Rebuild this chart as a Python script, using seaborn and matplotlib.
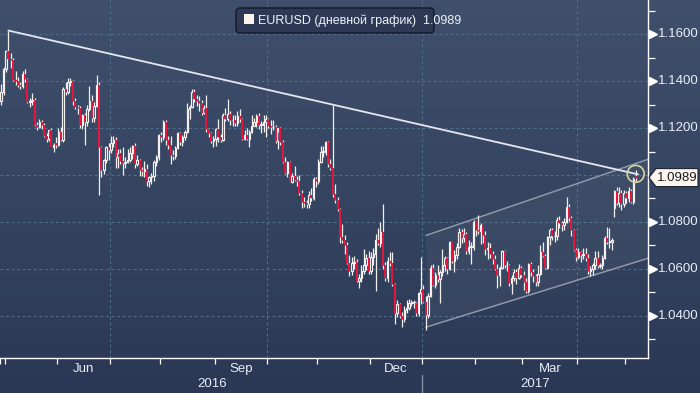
import numpy as np
import pandas as pd
import matplotlib
matplotlib.use("Agg")
import matplotlib.pyplot as plt
import matplotlib.transforms as mtransforms
from matplotlib.patches import FancyBboxPatch, Rectangle, Polygon
import seaborn as sns

# ---------------- data (EURUSD daily) ----------------
start_date = "2016-04-28"
end_date = "2017-05-05"

opens = [
    1.1315, 1.1355,
    1.1450, 1.1530, 1.1495, 1.1490, 1.1405, 1.1400, 1.1385, 1.1380, 1.1430, 1.1410, 1.1310, 1.1315, 1.1320, 1.1215, 1.1205, 1.1225, 1.1215, 1.1165, 1.1155, 1.1190, 1.1120, 1.1135,
    1.1130, 1.1185, 1.1150, 1.1365, 1.1355, 1.1395, 1.1400, 1.1315, 1.1290, 1.1285, 1.1215, 1.1255, 1.1225, 1.1280, 1.1315, 1.1245, 1.1295, 1.1385, 1.1120, 1.1020, 1.1065, 1.1120,
    1.1105, 1.1135, 1.1150, 1.1075, 1.1095, 1.1060, 1.1050, 1.1055, 1.1065, 1.1095, 1.1125, 1.1045, 1.1065, 1.1020, 1.1015, 1.1025, 1.0975, 1.0990, 1.0995, 1.1055, 1.1075,
    1.1170, 1.1160, 1.1225, 1.1150, 1.1130, 1.1085, 1.1080, 1.1115, 1.1180, 1.1140, 1.1160, 1.1185, 1.1280, 1.1290, 1.1355, 1.1325, 1.1315, 1.1305, 1.1265, 1.1285, 1.1195, 1.1180, 1.1145,
    1.1155, 1.1195, 1.1160, 1.1150, 1.1255, 1.1240, 1.1260, 1.1235, 1.1235, 1.1220, 1.1250, 1.1240, 1.1155, 1.1170, 1.1155, 1.1185, 1.1210, 1.1225, 1.1250, 1.1215, 1.1215, 1.1225,
    1.1240, 1.1210, 1.1205, 1.1205, 1.1145, 1.1200, 1.1140, 1.1055, 1.1010, 1.1055, 1.0970, 1.0995, 1.0980, 1.0975, 1.0925, 1.0885, 1.0880, 1.0875, 1.0915, 1.0900, 1.0985,
    1.0975, 1.1055, 1.1100, 1.1100, 1.1140, 1.1045, 1.1030, 1.0920, 1.0895, 1.0855, 1.0735, 1.0725, 1.0700, 1.0625, 1.0590, 1.0625, 1.0630, 1.0550, 1.0560, 1.0590, 1.0615, 1.0645,
    1.0590, 1.0650, 1.0665, 1.0725, 1.0710, 1.0755, 1.0615, 1.0560, 1.0635, 1.0625, 1.0535, 1.0410, 1.0450, 1.0400, 1.0385, 1.0425, 1.0435, 1.0455, 1.0455, 1.0455, 1.0410, 1.0495,
    1.0515, 1.0460, 1.0405, 1.0485, 1.0605, 1.0530, 1.0575, 1.0555, 1.0585, 1.0615, 1.0645, 1.0600, 1.0715, 1.0635, 1.0660, 1.0695, 1.0755, 1.0730, 1.0750, 1.0675, 1.0695, 1.0695,
    1.0800, 1.0765, 1.0760, 1.0785, 1.0745, 1.0685, 1.0690, 1.0665, 1.0640, 1.0600, 1.0575, 1.0605, 1.0675, 1.0615, 1.0615, 1.0540, 1.0560, 1.0585, 1.0560, 1.0605,
    1.0575, 1.0545, 1.0505, 1.0620, 1.0585, 1.0570, 1.0545, 1.0580, 1.0670, 1.0655, 1.0605, 1.0735, 1.0765, 1.0740, 1.0740, 1.0810, 1.0795, 1.0785, 1.0800, 1.0865, 1.0815, 1.0765, 1.0680,
    1.0650, 1.0670, 1.0660, 1.0665, 1.0645, 1.0590, 1.0600, 1.0615, 1.0645, 1.0610, 1.0615, 1.0645, 1.0730, 1.0715, 1.0715, 1.0860, 1.0930, 1.0880, 1.0925, 1.0875,
    1.0925, 1.0900, 1.0930, 1.0885, 1.0995,
]
highs = [
    1.1390, 1.1460,
    1.1535, 1.1616, 1.1520, 1.1500, 1.1445, 1.1420, 1.1395, 1.1445, 1.1450, 1.1412, 1.1330, 1.1350, 1.1330, 1.1225, 1.1240, 1.1235, 1.1220, 1.1180, 1.1190, 1.1200, 1.1135, 1.1160,
    1.1200, 1.1205, 1.1375, 1.1395, 1.1415, 1.1415, 1.1405, 1.1330, 1.1300, 1.1295, 1.1260, 1.1265, 1.1300, 1.1380, 1.1340, 1.1310, 1.1425, 1.1395, 1.1125, 1.1070, 1.1125, 1.1135,
    1.1165, 1.1165, 1.1160, 1.1110, 1.1110, 1.1120, 1.1075, 1.1110, 1.1120, 1.1130, 1.1135, 1.1085, 1.1070, 1.1035, 1.1060, 1.1045, 1.0995, 1.1010, 1.1065, 1.1085, 1.1175,
    1.1185, 1.1235, 1.1235, 1.1165, 1.1165, 1.1105, 1.1125, 1.1185, 1.1185, 1.1170, 1.1190, 1.1305, 1.1300, 1.1365, 1.1365, 1.1340, 1.1335, 1.1320, 1.1300, 1.1340, 1.1200, 1.1185, 1.1165,
    1.1200, 1.1240, 1.1175, 1.1265, 1.1285, 1.1325, 1.1275, 1.1255, 1.1255, 1.1275, 1.1280, 1.1245, 1.1190, 1.1200, 1.1190, 1.1255, 1.1245, 1.1260, 1.1265, 1.1230, 1.1255, 1.1255,
    1.1245, 1.1235, 1.1235, 1.1215, 1.1185, 1.1205, 1.1150, 1.1075, 1.1060, 1.1060, 1.1010, 1.1040, 1.0995, 1.1000, 1.0935, 1.0905, 1.0895, 1.0930, 1.0945, 1.0990, 1.0990,
    1.1070, 1.1125, 1.1125, 1.1145, 1.1145, 1.1070, 1.1300, 1.0960, 1.0905, 1.0860, 1.0790, 1.0745, 1.0715, 1.0660, 1.0650, 1.0655, 1.0640, 1.0580, 1.0615, 1.0685, 1.0665, 1.0675,
    1.0670, 1.0690, 1.0750, 1.0775, 1.0800, 1.0875, 1.0630, 1.0650, 1.0670, 1.0670, 1.0540, 1.0465, 1.0455, 1.0415, 1.0440, 1.0465, 1.0470, 1.0465, 1.0465, 1.0460, 1.0500, 1.0652,
    1.0530, 1.0485, 1.0495, 1.0615, 1.0620, 1.0585, 1.0615, 1.0595, 1.0685, 1.0655, 1.0650, 1.0720, 1.0715, 1.0680, 1.0710, 1.0775, 1.0770, 1.0775, 1.0755, 1.0725, 1.0715, 1.0810,
    1.0800, 1.0829, 1.0795, 1.0785, 1.0760, 1.0715, 1.0710, 1.0675, 1.0660, 1.0620, 1.0610, 1.0680, 1.0680, 1.0635, 1.0620, 1.0575, 1.0600, 1.0600, 1.0620, 1.0610,
    1.0590, 1.0560, 1.0625, 1.0630, 1.0600, 1.0580, 1.0615, 1.0700, 1.0715, 1.0665, 1.0740, 1.0775, 1.0775, 1.0760, 1.0820, 1.0825, 1.0805, 1.0815, 1.0906, 1.0875, 1.0825, 1.0770, 1.0690,
    1.0690, 1.0675, 1.0690, 1.0690, 1.0665, 1.0610, 1.0625, 1.0675, 1.0675, 1.0625, 1.0660, 1.0740, 1.0778, 1.0775, 1.0730, 1.0937, 1.0950, 1.0950, 1.0935, 1.0935,
    1.0930, 1.0950, 1.0940, 1.0990, 1.1020,
]
lows = [
    1.1300, 1.1340,
    1.1440, 1.1495, 1.1455, 1.1400, 1.1385, 1.1375, 1.1365, 1.1370, 1.1395, 1.1305, 1.1290, 1.1300, 1.1210, 1.1190, 1.1200, 1.1195, 1.1160, 1.1140, 1.1145, 1.1120, 1.1100, 1.1115,
    1.1125, 1.1145, 1.1140, 1.1340, 1.1345, 1.1380, 1.1300, 1.1280, 1.1260, 1.1200, 1.1195, 1.1130, 1.1210, 1.1275, 1.1225, 1.1225, 1.1290, 1.0915, 1.0990, 1.1005, 1.1050, 1.1065,
    1.1095, 1.1120, 1.1030, 1.1030, 1.1045, 1.1000, 1.1030, 1.1050, 1.1055, 1.1070, 1.1030, 1.1040, 1.0995, 1.0995, 1.0990, 1.0955, 1.0950, 1.0960, 1.0975, 1.1040, 1.1065,
    1.1140, 1.1150, 1.1130, 1.1110, 1.1045, 1.1065, 1.1070, 1.1110, 1.1130, 1.1125, 1.1150, 1.1180, 1.1240, 1.1285, 1.1310, 1.1295, 1.1275, 1.1255, 1.1260, 1.1185, 1.1160, 1.1135, 1.1120,
    1.1125, 1.1140, 1.1140, 1.1145, 1.1230, 1.1230, 1.1215, 1.1210, 1.1210, 1.1210, 1.1225, 1.1150, 1.1150, 1.1150, 1.1120, 1.1180, 1.1210, 1.1205, 1.1195, 1.1180, 1.1185, 1.1160,
    1.1200, 1.1175, 1.1190, 1.1135, 1.1110, 1.1130, 1.1050, 1.1005, 1.0990, 1.0970, 1.0965, 1.0975, 1.0955, 1.0915, 1.0860, 1.0865, 1.0860, 1.0860, 1.0890, 1.0895, 1.0950,
    1.0960, 1.1050, 1.1075, 1.1085, 1.1035, 1.1020, 1.0905, 1.0880, 1.0845, 1.0710, 1.0710, 1.0665, 1.0620, 1.0570, 1.0575, 1.0600, 1.0545, 1.0520, 1.0545, 1.0580, 1.0595, 1.0580,
    1.0580, 1.0615, 1.0505, 1.0700, 1.0695, 1.0600, 1.0550, 1.0545, 1.0610, 1.0525, 1.0365, 1.0395, 1.0390, 1.0352, 1.0375, 1.0410, 1.0425, 1.0440, 1.0435, 1.0400, 1.0400, 1.0450,
    1.0455, 1.0340, 1.0390, 1.0480, 1.0525, 1.0520, 1.0545, 1.0455, 1.0570, 1.0590, 1.0580, 1.0595, 1.0625, 1.0585, 1.0640, 1.0690, 1.0710, 1.0715, 1.0665, 1.0665, 1.0620, 1.0680,
    1.0740, 1.0750, 1.0705, 1.0710, 1.0660, 1.0640, 1.0645, 1.0620, 1.0595, 1.0520, 1.0525, 1.0600, 1.0605, 1.0590, 1.0525, 1.0494, 1.0550, 1.0535, 1.0555, 1.0565,
    1.0510, 1.0495, 1.0495, 1.0570, 1.0545, 1.0525, 1.0525, 1.0575, 1.0650, 1.0600, 1.0600, 1.0700, 1.0725, 1.0715, 1.0725, 1.0775, 1.0760, 1.0765, 1.0795, 1.0805, 1.0740, 1.0675, 1.0635,
    1.0640, 1.0630, 1.0640, 1.0635, 1.0580, 1.0570, 1.0575, 1.0600, 1.0605, 1.0605, 1.0600, 1.0640, 1.0705, 1.0690, 1.0680, 1.0821, 1.0870, 1.0865, 1.0850, 1.0865,
    1.0880, 1.0885, 1.0880, 1.0875, 1.0970,
]
closes = [
    1.1355, 1.1450,
    1.1530, 1.1495, 1.1490, 1.1405, 1.1400, 1.1385, 1.1380, 1.1430, 1.1410, 1.1310, 1.1315, 1.1320, 1.1215, 1.1205, 1.1225, 1.1215, 1.1165, 1.1155, 1.1190, 1.1120, 1.1130, 1.1130,
    1.1185, 1.1150, 1.1365, 1.1355, 1.1395, 1.1400, 1.1315, 1.1290, 1.1285, 1.1215, 1.1255, 1.1225, 1.1280, 1.1315, 1.1245, 1.1295, 1.1385, 1.1120, 1.1020, 1.1065, 1.1120, 1.1105,
    1.1135, 1.1150, 1.1075, 1.1095, 1.1060, 1.1050, 1.1055, 1.1065, 1.1095, 1.1125, 1.1045, 1.1065, 1.1020, 1.1015, 1.1025, 1.0975, 1.0990, 1.0995, 1.1055, 1.1075, 1.1170,
    1.1160, 1.1225, 1.1150, 1.1130, 1.1085, 1.1080, 1.1115, 1.1180, 1.1140, 1.1160, 1.1185, 1.1280, 1.1290, 1.1355, 1.1325, 1.1315, 1.1305, 1.1265, 1.1285, 1.1195, 1.1180, 1.1145, 1.1155,
    1.1195, 1.1160, 1.1150, 1.1255, 1.1240, 1.1260, 1.1235, 1.1235, 1.1220, 1.1250, 1.1240, 1.1155, 1.1170, 1.1155, 1.1185, 1.1210, 1.1225, 1.1250, 1.1215, 1.1215, 1.1225, 1.1240,
    1.1210, 1.1205, 1.1205, 1.1145, 1.1200, 1.1140, 1.1055, 1.1010, 1.1055, 1.0970, 1.0995, 1.0980, 1.0975, 1.0925, 1.0885, 1.0880, 1.0875, 1.0915, 1.0900, 1.0985, 1.0975,
    1.1055, 1.1100, 1.1100, 1.1140, 1.1045, 1.1030, 1.0920, 1.0895, 1.0855, 1.0735, 1.0725, 1.0700, 1.0625, 1.0590, 1.0625, 1.0630, 1.0550, 1.0560, 1.0590, 1.0615, 1.0645, 1.0590,
    1.0650, 1.0665, 1.0725, 1.0710, 1.0755, 1.0615, 1.0560, 1.0635, 1.0625, 1.0535, 1.0410, 1.0450, 1.0400, 1.0385, 1.0425, 1.0435, 1.0455, 1.0455, 1.0455, 1.0410, 1.0495, 1.0515,
    1.0460, 1.0405, 1.0485, 1.0605, 1.0530, 1.0575, 1.0555, 1.0585, 1.0615, 1.0645, 1.0600, 1.0715, 1.0635, 1.0660, 1.0695, 1.0755, 1.0730, 1.0750, 1.0675, 1.0695, 1.0695, 1.0800,
    1.0765, 1.0760, 1.0785, 1.0745, 1.0685, 1.0690, 1.0665, 1.0640, 1.0600, 1.0575, 1.0605, 1.0675, 1.0615, 1.0615, 1.0540, 1.0560, 1.0585, 1.0560, 1.0605, 1.0575,
    1.0545, 1.0505, 1.0620, 1.0585, 1.0570, 1.0545, 1.0580, 1.0670, 1.0655, 1.0605, 1.0735, 1.0765, 1.0740, 1.0740, 1.0810, 1.0795, 1.0785, 1.0800, 1.0865, 1.0815, 1.0765, 1.0680, 1.0650,
    1.0670, 1.0660, 1.0665, 1.0645, 1.0590, 1.0600, 1.0615, 1.0645, 1.0610, 1.0615, 1.0645, 1.0730, 1.0715, 1.0715, 1.0725, 1.0930, 1.0880, 1.0925, 1.0875, 1.0925,
    1.0900, 1.0930, 1.0885, 1.0985, 1.0989,
]

# trend line (May-2016 high through the Nov-9 spike) and rising channel
trend_dates = ["2016-05-03", "2017-05-05"]
trend_prices = [1.1616, 1.1005]
channel_start = "2017-01-03"
channel_upper = [1.0742, 1.1067]
channel_lower = [1.0351, 1.0645]

y_major = [1.04, 1.06, 1.08, 1.10, 1.12, 1.14, 1.16]
y_labeled = [1.04, 1.06, 1.08, 1.12, 1.14, 1.16]
y_minor = [1.03, 1.05, 1.07, 1.09, 1.11, 1.13, 1.15, 1.17]
month_label_keys = ["2016-06", "2016-09", "2016-12", "2017-03"]
month_label_text = ["Jun", "Sep", "Dec", "Mar"]
quarter_keys = ["2016-07", "2016-10", "2017-01", "2017-04"]
year_text = ["2016", "2017"]
legend_label = "EURUSD (дневной график)"

# ---------------- frame ----------------
dates = pd.bdate_range(start_date, end_date)
assert len(dates) == len(opens) == len(highs) == len(lows) == len(closes)
df = pd.DataFrame({"date": dates, "open": opens, "high": highs, "low": lows, "close": closes})
df["i"] = np.arange(len(df))
df["top"] = df[["open", "close"]].max(axis=1)
df["bot"] = df[["open", "close"]].min(axis=1)
df["up"] = df["close"] >= df["open"]
pos = dict(zip(df["date"].dt.strftime("%Y-%m-%d"), df["i"]))
month_first = df.groupby(df["date"].dt.strftime("%Y-%m"))["i"].min()

sns.set_theme(style="dark")
plt.rcParams["font.family"] = ["Liberation Sans", "DejaVu Sans"]

W, H = 700, 393
fig = plt.figure(figsize=(W / 100, H / 100), dpi=100)

# background gradient
bg = fig.add_axes([0, 0, 1, 1], zorder=-10)
top_c = np.array([64, 80, 108]) / 255
bot_c = np.array([42, 56, 85]) / 255
t = np.linspace(0, 1, H)[:, None]
grad = (top_c * (1 - t) + bot_c * t)[:, None, :]
bg.imshow(grad, aspect="auto", extent=[0, 1, 0, 1], origin="upper")
bg.axis("off")

ax_h = 358
ax = fig.add_axes([0, (H - ax_h) / H, 648 / W, ax_h / H])
ax.set_facecolor("none")
ax.grid(False)

px_per_bar = 2.392
x_left = 1.5 - 3 / px_per_bar
x_right = 1.5 + 645 / px_per_bar
ax.set_xlim(x_left, x_right)
ax.set_ylim(1.02197, 1.17463)

grid_col = "#4f6e8c"
for v in y_major:
    ax.axhline(v, color=grid_col, lw=0.8, ls=(0, (2.5, 2.5)), zorder=1)
for k in quarter_keys:
    ax.axvline(month_first[k] - 0.5, color=grid_col, lw=0.8, ls=(0, (2.5, 2.5)), zorder=1)

# channel
c0 = pos[channel_start]
ax.fill_between([c0, x_right], channel_lower, channel_upper, color="white", alpha=0.045, lw=0, zorder=1.5)
sns.lineplot(x=[c0, x_right], y=channel_upper, ax=ax, color="#8e98aa", lw=1.1, zorder=2)
sns.lineplot(x=[c0, x_right], y=channel_lower, ax=ax, color="#8e98aa", lw=1.1, zorder=2)

# candles
wick_c = "#f3efec"
ax.vlines(df["i"], df["top"], df["high"], color=wick_c, lw=0.9, zorder=3)
ax.vlines(df["i"], df["low"], df["bot"], color=wick_c, lw=0.9, zorder=3)
up = df[df["up"]]
dn = df[~df["up"]]
ax.bar(up["i"], np.maximum(up["top"] - up["bot"], 0.00015), bottom=up["bot"], width=0.62,
       facecolor="none", edgecolor="#f6f1ee", linewidth=0.85, zorder=4)
ax.bar(dn["i"], np.maximum(dn["top"] - dn["bot"], 0.00015), bottom=dn["bot"], width=0.85,
       color="#e3163d", linewidth=0, zorder=4)

# trend line + circle
ti = [pos[d] for d in trend_dates]
slope = (trend_prices[1] - trend_prices[0]) / (ti[1] - ti[0])
sns.lineplot(x=[ti[0], ti[1] + 1], y=[trend_prices[0], trend_prices[1] + slope],
             ax=ax, color="#e4e7ee", lw=1.3, zorder=5)
ax.scatter([ti[1]], [trend_prices[1]], s=150, facecolor="none", edgecolor="#d9d59c", linewidth=1.2, zorder=6)

# spines
for s in ["top", "left"]:
    ax.spines[s].set_visible(False)
for s in ["right", "bottom"]:
    ax.spines[s].set_visible(True)
    ax.spines[s].set_color("white")
    ax.spines[s].set_linewidth(1.0)

# y axis
ax.yaxis.tick_right()
ax.set_yticks(y_minor)
ax.set_yticklabels([])
ax.tick_params(axis="y", which="major", direction="out", length=5, width=0.9, color="white", right=True, left=False)
blend_y = mtransforms.blended_transform_factory(ax.transAxes, ax.transData)
txt_c = "#e8eef7"
for v in y_labeled:
    ax.plot([1 + 4.5 / 648], [v], marker=">", ms=5.5, color="white", mec="white",
            transform=blend_y, clip_on=False, zorder=7)
    ax.text(1 + 10 / 648, v, f"{v:.4f}", transform=blend_y, ha="left", va="center",
            fontsize=9.5, color=txt_c)

# last-price tag (arrow-shaped box in pixel units)
last_close = closes[-1]
yc = ax.transData.transform((0, last_close))[1]
tag = Polygon([(649, yc), (656, yc - 9), (698, yc - 9), (698, yc + 9), (656, yc + 9)],
              closed=True, fc="#fdf6ee", ec="#1c2230", lw=0.8,
              transform=mtransforms.IdentityTransform(), figure=fig)
fig.patches.append(tag)
fig.text(677 / W, yc / H, f"{last_close:.4f}", ha="center", va="center",
         fontsize=9.5, color="#1b1d22")

# x axis
bounds = [month_first[k] - 0.5 for k in month_first.index]
ax.set_xticks(bounds)
ax.set_xticklabels([])
ax.tick_params(axis="x", which="major", direction="out", length=4, width=0.9, color="white", bottom=True)
blend_x = mtransforms.blended_transform_factory(ax.transData, ax.transAxes)
keys = list(month_first.index)
for k, lab in zip(month_label_keys, month_label_text):
    j = keys.index(k)
    c = (month_first[keys[j]] + month_first[keys[j + 1]]) / 2 - 0.5
    ax.text(c, -11 / ax_h, lab, transform=blend_x, ha="center", va="center", fontsize=9.5, color=txt_c)
jan = month_first["2017-01"] - 0.5
ax.text((x_left + jan) / 2, -26 / ax_h, year_text[0], transform=blend_x, ha="center", va="center", fontsize=9.5, color=txt_c)
ax.text((jan + x_right) / 2, -26 / ax_h, year_text[1], transform=blend_x, ha="center", va="center", fontsize=9.5, color=txt_c)
ax.plot([jan, jan], [-17 / ax_h, -36 / ax_h], transform=blend_x, color="#8795a8", lw=0.9, clip_on=False)

ax.set_xlabel("")
ax.set_ylabel("")

# legend box
inch = fig.dpi_scale_trans
fig.patches.append(FancyBboxPatch((2.36, (H - 33) / 100), 1.98, 0.25,
                                  boxstyle="round,pad=0,rounding_size=0.04",
                                  fc="#2e3a55", ec="#121826", lw=1.0, transform=inch, figure=fig))
fig.patches.append(Rectangle((2.435, (H - 24) / 100), 0.10, 0.10, fc="#fdf3ee", ec="none",
                             transform=inch, figure=fig))
fig.text(2.58 / 7.0, 1 - 21 / H, f"{legend_label}  {last_close:.4f}", ha="left", va="center",
         fontsize=9, color="#eef2f8")

fig.savefig("out.png", dpi=100)
